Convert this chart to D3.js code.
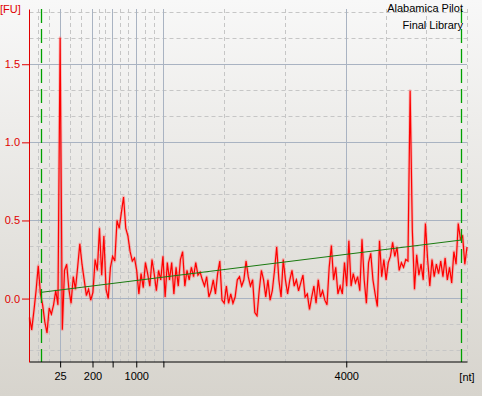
<!DOCTYPE html>
<html>
<head>
<meta charset="utf-8">
<script src="https://cdn.jsdelivr.net/npm/d3@7"></script>
<style>
body { margin: 0; }
svg { display: block; font-family: Tahoma, "Liberation Sans", Arial, sans-serif; }
</style>
</head>
<body>
<script>
const width = 482;
const height = 396;

// electropherogram, sampled every 0.25 s from 19 s
const sampleStart = 19;
const sampleStep = 0.25;
const fu = [
    -0.12, -0.20, -0.08, 0.05, 0.21, 0.03, -0.04, -0.15, -0.22, -0.06, -0.10, -0.04, 0.05, -0.04,
    1.67, -0.20, 0.18, 0.22, 0.06, -0.03, 0.14, 0.06, 0.20, 0.35,
    0.22, 0.12, 0.02, 0.06, -0.01, 0.04, 0.25, 0.18, 0.45, 0.15,
    0.40, 0.06, 0.00, 0.20, 0.27, 0.24, 0.50, 0.45, 0.55, 0.65,
    0.45, 0.40, 0.30, 0.24, 0.26, 0.18, 0.03, 0.16, 0.07, 0.23,
    0.16, 0.08, 0.25, 0.16, 0.05, 0.18, 0.12, 0.27, 0.01, 0.23,
    0.12, 0.23, 0.03, 0.20, 0.08, 0.25, 0.30, 0.08, 0.18, 0.12,
    0.20, 0.14, 0.23, 0.15, 0.17, 0.12, 0.08, 0.14, 0.01, 0.05,
    0.12, 0.03, 0.16, 0.24, -0.01, -0.03, 0.08, -0.03, 0.03, -0.03,
    0.01, 0.12, 0.14, 0.08, 0.12, 0.24, 0.14, 0.08, 0.12, -0.09,
    -0.11, 0.05, 0.18, 0.12, 0.01, 0.12, -0.01, 0.05, 0.18, 0.33,
    0.12, 0.01, 0.25, 0.12, 0.03, 0.12, 0.18, 0.08, 0.12, 0.05,
    0.10, 0.15, 0.01, 0.03, -0.07, 0.01, 0.08, -0.03, 0.12, 0.01,
    0.05, -0.01, -0.04, 0.20, 0.34, 0.12, 0.20, 0.03, 0.08, 0.03,
    0.23, 0.08, 0.37, 0.08, 0.16, 0.10, 0.14, 0.05, 0.38, 0.12,
    -0.03, 0.23, 0.29, 0.12, 0.03, -0.05, 0.37, 0.14, 0.25, 0.12,
    0.23, 0.27, 0.36, 0.27, 0.33, 0.18, 0.23, 0.20, 0.25, 0.24,
    1.33, 0.44, 0.06, 0.28, 0.15, 0.22, 0.12, 0.48, 0.25, 0.08,
    0.25, 0.14, 0.22, 0.16, 0.24, 0.14, 0.26, 0.12, 0.20, 0.10,
    0.30, 0.22, 0.48, 0.38, 0.40, 0.22, 0.33
];

// ladder: size [nt] and migration time [s]
const ladderSizes = [25, 200, 500, 1000, 2000, 4000, 6000];
const ladderTimes = [22.5, 26.2, 28.5, 31.2, 34.3, 55.2, 69.0];
const labeledSizes = [25, 200, 1000, 4000];

// lower / upper markers and the baseline between them
const markerTimes = [20.35, 68.37];
const baselineFu = [0.04, 0.375];

const yTicks = [0.0, 0.5, 1.0, 1.5];
const titleLines = ["Alabamica Pilot", "Final Library"];

const plot = { left: 29.5, right: 467, top: 9, bottom: 362 };

const x = d3.scaleLinear().domain([19, 69]).range([plot.left, plot.right]);
const y = d3.scaleLinear().domain([-0.406, 1.8535]).range([plot.bottom, plot.top]);
const crisp = v => Math.round(v - 0.5) + 0.5;

const svg = d3.select("body").append("svg")
    .attr("width", width)
    .attr("height", height);

const grad = svg.append("defs").append("linearGradient")
    .attr("id", "bg")
    .attr("x1", 0).attr("y1", 0).attr("x2", 0).attr("y2", 1);
grad.append("stop").attr("offset", 0).attr("stop-color", "#f8f8f8");
grad.append("stop").attr("offset", 1).attr("stop-color", "#d7d4cd");

svg.append("rect")
    .attr("width", width)
    .attr("height", height)
    .attr("fill", "url(#bg)");

// minor grid: thirds between ladder positions
let minorTimes = [];
let firstGap = (ladderTimes[1] - ladderTimes[0]) / 3;
minorTimes.push(ladderTimes[0] - firstGap, ladderTimes[0] - 2 * firstGap);
for (let i = 0; i < ladderTimes.length - 1; i++) {
    let gap = (ladderTimes[i + 1] - ladderTimes[i]) / 3;
    minorTimes.push(ladderTimes[i] + gap, ladderTimes[i] + 2 * gap);
}
minorTimes.push(ladderTimes[ladderTimes.length - 1]);

const minorFu = d3.range(-2, 12).filter(k => k % 3 !== 0).map(k => k / 6);

const grid = svg.append("g");
grid.selectAll(".vminor")
    .data(minorTimes)
    .join("line")
    .attr("x1", d => crisp(x(d))).attr("x2", d => crisp(x(d)))
    .attr("y1", plot.top).attr("y2", plot.bottom)
    .attr("stroke", "#c6c6c6")
    .attr("stroke-dasharray", "4,3");
grid.selectAll(".hminor")
    .data(minorFu)
    .join("line")
    .attr("x1", plot.left).attr("x2", plot.right)
    .attr("y1", d => crisp(y(d))).attr("y2", d => crisp(y(d)))
    .attr("stroke", "#c6c6c6")
    .attr("stroke-dasharray", "4,3");
grid.selectAll(".vmajor")
    .data(ladderTimes.slice(0, -1))
    .join("line")
    .attr("x1", d => crisp(x(d))).attr("x2", d => crisp(x(d)))
    .attr("y1", plot.top).attr("y2", plot.bottom)
    .attr("stroke", "#a9b3c2");
grid.selectAll(".hmajor")
    .data(yTicks)
    .join("line")
    .attr("x1", plot.left).attr("x2", plot.right)
    .attr("y1", d => crisp(y(d))).attr("y2", d => crisp(y(d)))
    .attr("stroke", "#a9b3c2");

const series = fu.map((v, i) => [sampleStart + i * sampleStep, v]);
const line = d3.line()
    .x(d => x(d[0]))
    .y(d => y(d[1]));

svg.append("path")
    .datum(series)
    .attr("d", line)
    .attr("fill", "none")
    .attr("stroke", "#ff7070")
    .attr("stroke-opacity", 0.4)
    .attr("stroke-width", 3)
    .attr("stroke-linejoin", "round");
svg.append("path")
    .datum(series)
    .attr("d", line)
    .attr("fill", "none")
    .attr("stroke", "#ff0000")
    .attr("stroke-width", 1.2);

// baseline
svg.append("path")
    .datum(markerTimes.map((t, i) => [t, baselineFu[i]]))
    .attr("d", line)
    .attr("fill", "none")
    .attr("stroke", "#1a7a10")
    .attr("stroke-width", 1);

// markers
svg.append("g").selectAll("line")
    .data(markerTimes)
    .join("line")
    .attr("x1", d => crisp(x(d))).attr("x2", d => crisp(x(d)))
    .attr("y1", plot.top).attr("y2", plot.bottom)
    .attr("stroke", "#00a000")
    .attr("stroke-width", 1.3)
    .attr("stroke-dasharray", "14,6");

// axes
const yAxis = svg.append("g")
    .attr("transform", `translate(${plot.left - 0.5},0)`)
    .call(d3.axisLeft(y)
        .tickValues(yTicks)
        .tickFormat(d3.format(".1f"))
        .tickSize(7)
        .tickPadding(2)
        .tickSizeOuter(0));
yAxis.attr("font-family", null).attr("font-size", 11);
yAxis.select(".domain").attr("stroke", "#e00000");
yAxis.selectAll(".tick line").attr("stroke", "#e00000");
yAxis.selectAll(".tick text").attr("fill", "#e00000");

const xAxis = svg.append("g")
    .attr("transform", `translate(0,${plot.bottom - 0.5})`)
    .call(d3.axisBottom(x)
        .tickValues(ladderTimes.slice(0, -1))
        .tickFormat((d, i) => labeledSizes.includes(ladderSizes[i]) ? ladderSizes[i] : "")
        .tickSize(6)
        .tickPadding(5)
        .tickSizeOuter(0));
xAxis.attr("font-family", null).attr("font-size", 11);
xAxis.select(".domain").attr("stroke", "#000");

svg.append("text")
    .attr("x", 0)
    .attr("y", 13)
    .attr("font-size", 11)
    .attr("fill", "#e00000")
    .text("[FU]");

svg.append("text")
    .attr("x", 467)
    .attr("y", 381)
    .attr("text-anchor", "middle")
    .attr("font-size", 11)
    .text("[nt]");

svg.selectAll(".title")
    .data(titleLines)
    .join("text")
    .attr("x", 463)
    .attr("y", (d, i) => 11.5 + i * 17)
    .attr("text-anchor", "end")
    .attr("font-size", 11)
    .text(d => d);
</script>
</body>
</html>
